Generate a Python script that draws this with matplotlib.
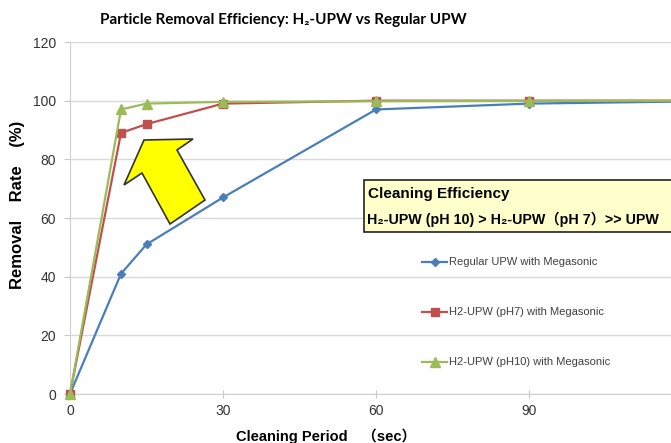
import numpy as np
import matplotlib.pyplot as plt
from matplotlib.patches import Polygon

# data
period = [0, 10, 15, 30, 60, 90, 120]
regular_upw = [0, 41, 51, 67, 97, 99, 99.7]
h2_ph7 = [0, 89, 92, 99, 100, 100, 100]
h2_ph10 = [0, 97, 99, 99.6, 99.8, 99.9, 100]
series_labels = ["Regular UPW with Megasonic",
                 "H2-UPW (pH7) with Megasonic",
                 "H2-UPW (pH10) with Megasonic"]
xticks = [0, 30, 60, 90]
yticks = [0, 20, 40, 60, 80, 100, 120]

W, H = 671, 443
fig = plt.figure(figsize=(W / 100, H / 100), dpi=100)

def px(x, y):
    # pixel position (from top-left) -> figure fraction
    return x / W, 1 - y / H

ax = fig.add_axes([70 / W, (H - 394) / H, 612 / W, 352 / H])

ax.plot(period, regular_upw, color="#4A7EBB", lw=1.6, marker="D", ms=4.5, label=series_labels[0], clip_on=False, zorder=3)
ax.plot(period, h2_ph7, color="#C0504D", lw=1.6, marker="s", ms=6, label=series_labels[1], clip_on=False, zorder=3)
ax.plot(period, h2_ph10, color="#9BBB59", lw=1.6, marker="^", ms=6.5, label=series_labels[2], clip_on=False, zorder=3)

ax.set_xlim(0, 120)
ax.set_ylim(0, 120)
ax.set_xticks(xticks)
ax.set_yticks(yticks)
ax.grid(axis="y", color="#D9D9D9", lw=1)
ax.set_axisbelow(True)
for s in ["top", "right"]:
    ax.spines[s].set_visible(False)
ax.spines["left"].set_color("#D0D0D0")
ax.spines["bottom"].set_color("#D0D0D0")
ax.tick_params(axis="x", direction="inout", length=6, color="#C8C8C8", labelsize=10, labelcolor="#333333", pad=4)
ax.tick_params(axis="y", direction="out", length=4, color="#C8C8C8", labelsize=10, labelcolor="#333333", pad=6)
for lab in ax.get_xticklabels() + ax.get_yticklabels():
    lab.set_family("Liberation Sans")

fig.text(*px(18, 205), "Removal    Rate    (%)", fontsize=12, fontweight="bold", family="Liberation Sans",
         rotation=90, ha="center", va="center")
fig.text(*px(326, 436), "Cleaning Period\u3000（sec）", fontsize=10.5, fontweight="bold",
         family=["Liberation Sans", "Noto Sans CJK JP"], ha="center", va="center")

fig.text(*px(100, 20), "Particle Removal Efficiency: H\u2082-UPW vs Regular UPW", fontsize=11,
         fontweight="bold", family=["Lato", "DejaVu Sans"], ha="left", va="center")

leg = ax.legend(loc="upper left", bbox_to_anchor=px(418, 253), bbox_transform=fig.transFigure,
                frameon=False, handlelength=2.2, handletextpad=0.2,
                labelspacing=3.6, borderaxespad=0, prop={"family": "Liberation Sans", "size": 8})
for t in leg.get_texts():
    t.set_color("#404040")

# annotation box
fig.add_artist(plt.Rectangle(px(364, 232), (700 - 364) / W, 52 / H, transform=fig.transFigure,
                             facecolor="#FFFFCC", edgecolor="#222222", lw=1.2, zorder=5, clip_on=False))
fig.text(*px(368, 194), "Cleaning Efficiency", fontsize=11, fontweight="bold",
         family="Liberation Sans", ha="left", va="center", zorder=6)
fig.text(*px(367, 219), "H\u2082-UPW (pH 10) > H\u2082-UPW（pH 7）>> UPW", fontsize=10.3, fontweight="bold",
         family=["Liberation Sans", "DejaVu Sans", "Noto Sans CJK JP"], ha="left", va="center", zorder=6)

# yellow arrow
arrow_px = [(144, 140), (193, 139), (177, 150), (205, 200), (170, 224), (142, 173), (124, 185)]
arrow = Polygon([px(x, y) for x, y in arrow_px], closed=True, transform=fig.transFigure,
                facecolor="#FFFF00", edgecolor="#333333", lw=1.2, zorder=6)
fig.add_artist(arrow)

fig.savefig("out.png", dpi=100)
